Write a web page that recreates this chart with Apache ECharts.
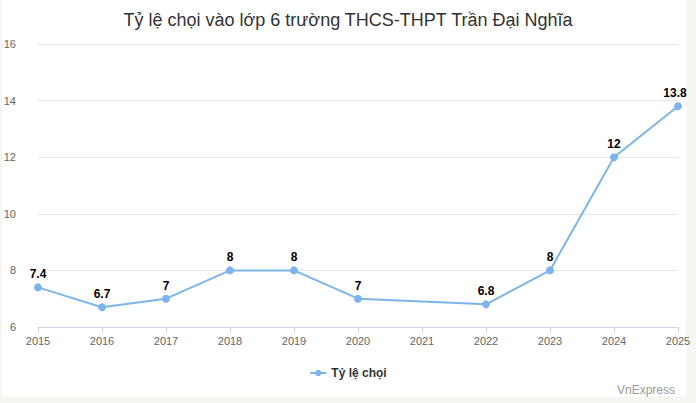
<!DOCTYPE html>
<html><head><meta charset="utf-8">
<script src="https://cdn.jsdelivr.net/npm/echarts@6/dist/echarts.min.js"></script>
<style>
html,body{margin:0;padding:0;background:#fff;width:696px;height:403px;overflow:hidden}
#c{position:absolute;left:0;top:0;width:696px;height:403px;background:#fff}
</style></head><body>
<div id="c"></div>
<script>
const categories = ['2015','2016','2017','2018','2019','2020','2021','2022','2023','2024','2025'];
const ratioValues = [7.4, 6.7, 7, 8, 8, 7, null, 6.8, 8, 12, 13.8];
const seriesName = 'Tỷ lệ chọi';
const yTicks = {min: 6, max: 16, interval: 2};

const lastIdx = ratioValues.length - 1;
const seriesData = ratioValues.map((v, i) =>
  i === lastIdx ? {value: v, label: {offset: [-3, 0]}} : v);

const chart = echarts.init(document.getElementById('c'), null, {renderer: 'svg'});
const edge = '#f6f5f1';
chart.setOption({
  animation: false,
  textStyle: {fontFamily: '"Liberation Sans", Arial, sans-serif'},
  title: {
    text: 'Tỷ lệ chọi vào lớp 6 trường THCS-THPT Trần Đại Nghĩa',
    left: 'center', top: 6,
    textStyle: {fontSize: 18, fontWeight: 'normal', color: '#333'}
  },
  graphic: [
    {type: 'rect', z: -10, silent: true, shape: {x: 686, y: 0, width: 10, height: 403}, style: {fill: edge}},
    {type: 'rect', z: -10, silent: true, shape: {x: 0, y: 397, width: 696, height: 6}, style: {fill: edge}},
    {type: 'rect', z: -10, silent: true, shape: {x: 0, y: 0, width: 2, height: 403}, style: {fill: edge}},
    {type: 'text', right: 21, bottom: 7,
     style: {text: 'VnExpress', fontSize: 12, fill: '#999', fontFamily: '"Liberation Sans", Arial, sans-serif'}}
  ],
  legend: {
    bottom: 19, left: 'center',
    itemWidth: 16, itemHeight: 8,
    textStyle: {fontSize: 12, fontWeight: 'bold', color: '#333'},
    data: [seriesName]
  },
  grid: {left: 38, right: 18, top: 44, bottom: 76, outerBoundsMode: 'none', containLabel: false},
  xAxis: {
    type: 'category', data: categories, boundaryGap: false,
    axisLine: {lineStyle: {color: '#ccd6eb'}},
    axisTick: {show: true, length: 6, lineStyle: {color: '#ccd6eb'}},
    axisLabel: {color: '#666', fontSize: 11, margin: 8}
  },
  yAxis: {
    type: 'value', min: yTicks.min, max: yTicks.max, interval: yTicks.interval,
    axisLine: {show: false}, axisTick: {show: false},
    splitLine: {lineStyle: {color: '#e6e6e6'}},
    axisLabel: {color: '#666', fontSize: 11, margin: 22}
  },
  series: [{
    name: seriesName, type: 'line', data: seriesData, connectNulls: true,
    symbol: 'circle', symbolSize: 8,
    itemStyle: {color: '#7cb5ec'},
    lineStyle: {width: 2, color: '#7cb5ec'},
    label: {show: true, position: 'top', distance: 3, fontSize: 12, fontWeight: 'bold', color: '#000',
      textBorderColor: '#fff', textBorderWidth: 2}
  }]
});
</script>
</body></html>
